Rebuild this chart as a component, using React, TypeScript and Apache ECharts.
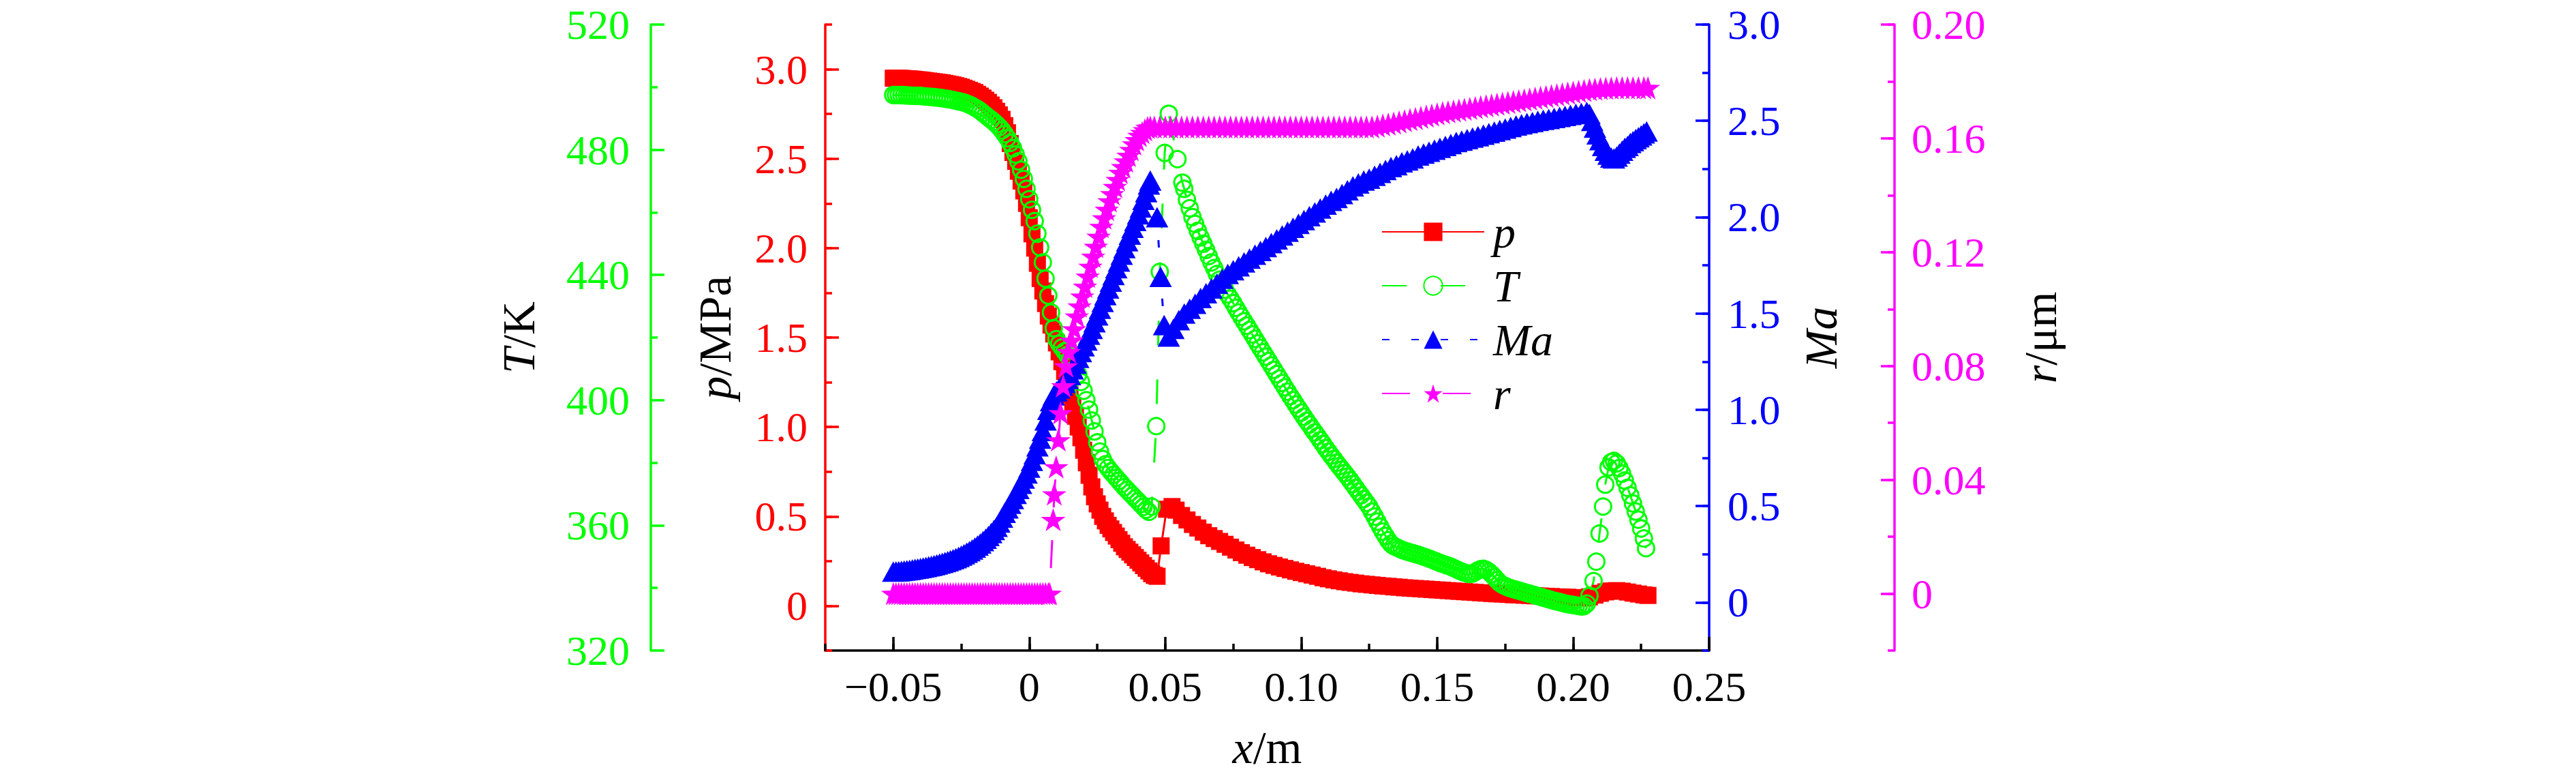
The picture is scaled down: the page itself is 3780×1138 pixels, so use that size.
import React, { useEffect, useRef } from 'react';
import * as echarts from 'echarts';

const FONT = 'Liberation Serif';
const RED = '#ff0000';
const GREEN = '#00ff00';
const BLUE = '#0000ff';
const MAGENTA = '#ff00ff';

const seriesNames = ['p', 'T', 'Ma', 'r'];

// tick label positions
const xMajors = [-0.05, 0, 0.05, 0.1, 0.15, 0.2, 0.25];
const pMajors = [0, 0.5, 1, 1.5, 2, 2.5, 3];
const tMajors = [320, 360, 400, 440, 480, 520];
const maMajors = [0, 0.5, 1, 1.5, 2, 2.5, 3];
const rMajors = [0, 0.04, 0.08, 0.12, 0.16, 0.2];

// p / MPa
const pData: [number, number][] = [
  [-0.05, 2.95], [-0.049, 2.95], [-0.048, 2.95], [-0.047, 2.949], [-0.046, 2.948], [-0.045, 2.947],
  [-0.044, 2.946], [-0.043, 2.945], [-0.042, 2.943], [-0.041, 2.941], [-0.04, 2.94], [-0.039, 2.938],
  [-0.038, 2.936], [-0.037, 2.934], [-0.036, 2.932], [-0.035, 2.93], [-0.034, 2.928], [-0.033, 2.926],
  [-0.032, 2.924], [-0.031, 2.921], [-0.03, 2.918], [-0.029, 2.915], [-0.028, 2.912], [-0.027, 2.908],
  [-0.026, 2.904], [-0.025, 2.9], [-0.024, 2.894], [-0.023, 2.888], [-0.022, 2.882], [-0.021, 2.876],
  [-0.02, 2.87], [-0.019, 2.86], [-0.018, 2.85], [-0.017, 2.839], [-0.016, 2.827],
  [-0.015, 2.815], [-0.014, 2.8], [-0.013, 2.785], [-0.012, 2.765], [-0.011, 2.745], [-0.01, 2.72],
  [-0.009, 2.685], [-0.008, 2.645], [-0.007, 2.585], [-0.006, 2.535], [-0.005, 2.485], [-0.004, 2.43],
  [-0.003, 2.375], [-0.002, 2.32], [-0.001, 2.25], [0, 2.17], [0.001, 2.08], [0.002, 2.0],
  [0.003, 1.915], [0.004, 1.83], [0.005, 1.76], [0.006, 1.69], [0.007, 1.62], [0.008, 1.57],
  [0.009, 1.52], [0.01, 1.47], [0.011, 1.42], [0.012, 1.365], [0.013, 1.31], [0.014, 1.245],
  [0.015, 1.18], [0.016, 1.12], [0.017, 1.06], [0.018, 1.0], [0.019, 0.94], [0.02, 0.87],
  [0.021, 0.8], [0.022, 0.73], [0.023, 0.665], [0.024, 0.61], [0.025, 0.57], [0.026, 0.535],
  [0.027, 0.5], [0.028, 0.475], [0.029, 0.45], [0.03, 0.43], [0.031, 0.41], [0.032, 0.39],
  [0.033, 0.37], [0.034, 0.35], [0.035, 0.33], [0.036, 0.315], [0.037, 0.3], [0.038, 0.285],
  [0.039, 0.27], [0.04, 0.255], [0.041, 0.24], [0.042, 0.225], [0.043, 0.21], [0.044, 0.195],
  [0.045, 0.18], [0.046, 0.17], [0.047, 0.165], [0.0485, 0.335], [0.0505, 0.54], [0.0525, 0.555],
  [0.054, 0.535], [0.056, 0.505], [0.058, 0.48], [0.06, 0.455], [0.062, 0.435], [0.064, 0.412],
  [0.066, 0.392], [0.068, 0.376], [0.07, 0.36], [0.072, 0.344], [0.074, 0.328], [0.076, 0.312],
  [0.078, 0.297], [0.08, 0.283], [0.082, 0.27], [0.084, 0.258], [0.086, 0.246], [0.088, 0.235],
  [0.09, 0.226], [0.092, 0.217], [0.094, 0.209], [0.096, 0.201], [0.098, 0.193], [0.1, 0.186],
  [0.102, 0.179], [0.104, 0.172], [0.106, 0.165], [0.108, 0.157], [0.11, 0.151], [0.112, 0.145],
  [0.114, 0.14], [0.116, 0.135], [0.118, 0.131], [0.12, 0.127], [0.122, 0.123], [0.124, 0.12],
  [0.126, 0.117], [0.128, 0.114], [0.13, 0.111], [0.132, 0.109], [0.134, 0.106], [0.136, 0.104],
  [0.138, 0.101], [0.14, 0.099], [0.142, 0.097], [0.144, 0.095], [0.146, 0.093], [0.148, 0.091],
  [0.15, 0.089], [0.152, 0.087], [0.154, 0.085], [0.156, 0.083], [0.158, 0.081], [0.16, 0.079],
  [0.162, 0.077], [0.164, 0.075], [0.166, 0.073], [0.168, 0.071], [0.17, 0.069], [0.172, 0.067],
  [0.174, 0.066], [0.176, 0.064], [0.178, 0.062], [0.18, 0.061], [0.182, 0.059], [0.184, 0.058],
  [0.186, 0.056], [0.188, 0.055], [0.19, 0.053], [0.192, 0.052], [0.194, 0.05], [0.196, 0.049],
  [0.198, 0.048], [0.2, 0.046], [0.202, 0.045], [0.204, 0.044], [0.206, 0.05], [0.208, 0.06],
  [0.21, 0.07], [0.212, 0.078], [0.214, 0.083], [0.216, 0.085], [0.218, 0.082], [0.22, 0.077],
  [0.222, 0.071], [0.224, 0.066], [0.226, 0.061], [0.2275, 0.058],
];

// T / K
const tData: [number, number][] = [
  [-0.05, 497.5], [-0.049, 497.5], [-0.048, 497.5], [-0.047, 497.45], [-0.046, 497.4], [-0.045, 497.35],
  [-0.044, 497.3], [-0.043, 497.25], [-0.042, 497.2], [-0.041, 497.2], [-0.04, 497.2], [-0.039, 497.1],
  [-0.038, 497.0], [-0.037, 496.95], [-0.036, 496.9], [-0.035, 496.8], [-0.034, 496.7], [-0.033, 496.6],
  [-0.032, 496.5], [-0.031, 496.35], [-0.03, 496.2], [-0.029, 496.05], [-0.028, 495.9], [-0.027, 495.7],
  [-0.026, 495.5], [-0.025, 495.3], [-0.024, 495.1], [-0.023, 494.75], [-0.022, 494.4], [-0.021, 494.0],
  [-0.02, 493.5], [-0.019, 493.0], [-0.018, 492.4], [-0.017, 491.7], [-0.016, 491.0],
  [-0.015, 490.3], [-0.014, 489.6], [-0.013, 488.9], [-0.012, 488.1], [-0.011, 487.2], [-0.01, 486.2],
  [-0.009, 485.0], [-0.008, 483.7], [-0.007, 482.2], [-0.006, 480.5], [-0.005, 478.5], [-0.004, 476.3],
  [-0.003, 473.6], [-0.002, 470.7], [-0.001, 467.5], [0, 464.2], [0.001, 460.8], [0.002, 457.2],
  [0.003, 453.2], [0.004, 448.8], [0.005, 444.0], [0.006, 438.8], [0.007, 433.4], [0.008, 428.0],
  [0.009, 423.0], [0.01, 419.5], [0.011, 418.0], [0.012, 416.8], [0.013, 415.6], [0.014, 414.4],
  [0.015, 413.0], [0.016, 411.6], [0.017, 410.0], [0.018, 408.2], [0.019, 405.8], [0.02, 403.0],
  [0.021, 400.0], [0.022, 397.0], [0.023, 393.5], [0.024, 390.0], [0.025, 386.5], [0.026, 383.6],
  [0.027, 381.2], [0.028, 379.5], [0.029, 378.3], [0.03, 377.2], [0.031, 376.2], [0.032, 375.2],
  [0.033, 374.2], [0.034, 373.2], [0.035, 372.2], [0.036, 371.3], [0.037, 370.4], [0.038, 369.5],
  [0.039, 368.6], [0.04, 367.7], [0.041, 366.8], [0.042, 365.9], [0.043, 365.0], [0.044, 364.3],
  [0.045, 366.0], [0.0467, 391.7], [0.048, 441], [0.0498, 479], [0.0513, 491.5], [0.0545, 477],
  [0.0563, 469.5], [0.057, 467.5], [0.058, 464.0], [0.059, 461.3], [0.06, 458.5], [0.061, 456.3],
  [0.062, 454.1], [0.063, 452.0], [0.064, 450.0], [0.065, 448.0], [0.066, 446.0], [0.067, 444.0],
  [0.068, 442.2], [0.069, 440.3], [0.07, 438.5], [0.071, 436.9], [0.072, 435.3], [0.073, 433.8],
  [0.074, 432.4], [0.075, 431.0], [0.076, 429.5], [0.077, 428.0], [0.078, 426.6], [0.079, 425.2],
  [0.08, 423.8], [0.081, 422.4], [0.082, 421.0], [0.083, 419.6], [0.084, 418.1], [0.085, 416.7],
  [0.086, 415.3], [0.087, 413.9], [0.088, 412.5], [0.089, 411.1], [0.09, 409.7], [0.091, 408.3],
  [0.092, 406.9], [0.093, 405.5], [0.094, 404.1], [0.095, 402.7], [0.096, 401.3], [0.097, 400.0],
  [0.098, 398.6], [0.099, 397.3], [0.1, 396.0], [0.101, 394.7], [0.102, 393.4], [0.103, 392.2],
  [0.104, 390.9], [0.105, 389.7], [0.106, 388.5], [0.107, 387.2], [0.108, 386.0], [0.109, 384.7],
  [0.11, 383.5], [0.111, 382.3], [0.112, 381.2], [0.113, 380.0], [0.114, 378.9], [0.115, 377.8],
  [0.116, 376.7], [0.117, 375.6], [0.118, 374.4], [0.119, 373.2], [0.12, 372.0], [0.121, 370.8],
  [0.122, 369.6], [0.123, 368.4], [0.124, 367.2], [0.125, 366.0], [0.126, 364.4], [0.127, 362.8],
  [0.128, 361.2], [0.129, 359.6], [0.13, 358.0], [0.131, 356.6], [0.132, 355.2], [0.133, 354.1],
  [0.134, 353.4], [0.135, 353.0], [0.136, 352.6], [0.137, 352.2], [0.138, 351.9], [0.139, 351.6],
  [0.14, 351.35], [0.141, 351.1], [0.142, 350.85], [0.143, 350.6], [0.144, 350.3], [0.145, 350.0],
  [0.146, 349.7], [0.147, 349.4], [0.148, 349.05], [0.149, 348.7], [0.15, 348.35], [0.151, 348.0],
  [0.152, 347.7], [0.153, 347.4], [0.154, 347.1], [0.155, 346.8], [0.156, 346.4], [0.157, 346.0],
  [0.158, 345.6], [0.159, 345.2], [0.16, 344.9], [0.161, 344.6], [0.162, 344.5], [0.163, 344.6],
  [0.164, 345.1], [0.165, 345.6], [0.166, 346.0], [0.167, 346.1], [0.168, 345.8], [0.169, 345.2],
  [0.17, 344.4], [0.171, 343.5], [0.172, 342.5], [0.173, 341.6], [0.174, 341.0], [0.175, 340.6],
  [0.176, 340.2], [0.177, 339.9], [0.178, 339.65], [0.179, 339.4], [0.18, 339.15], [0.181, 338.9],
  [0.182, 338.65], [0.183, 338.4], [0.184, 338.15], [0.185, 337.9], [0.186, 337.65], [0.187, 337.4],
  [0.188, 337.15], [0.189, 336.9], [0.19, 336.65], [0.191, 336.4], [0.192, 336.15], [0.193, 335.9],
  [0.194, 335.7], [0.195, 335.5], [0.196, 335.25], [0.197, 335.0], [0.198, 334.85], [0.199, 334.7],
  [0.2, 334.55], [0.201, 334.4], [0.202, 334.25], [0.203, 334.1], [0.204, 334.2], [0.205, 335.0],
  [0.206, 337.5], [0.2075, 342.2], [0.2085, 348.4], [0.2097, 357.4], [0.211, 366], [0.2118, 373],
  [0.213, 378.5], [0.214, 380.2], [0.215, 380.6], [0.216, 379.8], [0.217, 378.3], [0.218, 376.5],
  [0.219, 374.3], [0.22, 372.0], [0.221, 369.6], [0.222, 367.0], [0.223, 364.4], [0.224, 361.8],
  [0.225, 359.0], [0.226, 355.8], [0.2268, 352.7],
];

// Ma
const maData: [number, number][] = [
  [-0.05, 0.16], [-0.049, 0.161], [-0.048, 0.162], [-0.047, 0.1635], [-0.046, 0.165], [-0.045, 0.167],
  [-0.044, 0.169], [-0.043, 0.1715], [-0.042, 0.174], [-0.041, 0.176], [-0.04, 0.178], [-0.039, 0.181],
  [-0.038, 0.184], [-0.037, 0.187], [-0.036, 0.19], [-0.035, 0.1935], [-0.034, 0.197], [-0.033, 0.201],
  [-0.032, 0.205], [-0.031, 0.2095], [-0.03, 0.214], [-0.029, 0.219], [-0.028, 0.224], [-0.027, 0.23],
  [-0.026, 0.236], [-0.025, 0.243], [-0.024, 0.25], [-0.023, 0.258], [-0.022, 0.266], [-0.021, 0.275],
  [-0.02, 0.285], [-0.019, 0.295], [-0.018, 0.306], [-0.017, 0.318], [-0.016, 0.331],
  [-0.015, 0.345], [-0.014, 0.36], [-0.013, 0.376], [-0.012, 0.393], [-0.011, 0.415], [-0.01, 0.44],
  [-0.009, 0.465], [-0.008, 0.488], [-0.007, 0.512], [-0.006, 0.537], [-0.005, 0.563], [-0.004, 0.589],
  [-0.003, 0.616], [-0.002, 0.643], [-0.001, 0.67], [0, 0.7], [0.001, 0.735], [0.002, 0.77],
  [0.003, 0.81], [0.004, 0.85], [0.005, 0.89], [0.006, 0.945], [0.007, 1.0], [0.008, 1.045],
  [0.009, 1.075], [0.01, 1.095], [0.011, 1.11], [0.012, 1.125], [0.013, 1.14], [0.014, 1.16],
  [0.015, 1.18], [0.016, 1.21], [0.017, 1.24], [0.018, 1.27], [0.019, 1.3], [0.02, 1.33],
  [0.021, 1.36], [0.022, 1.39], [0.023, 1.42], [0.024, 1.455], [0.025, 1.49], [0.026, 1.525],
  [0.027, 1.56], [0.028, 1.595], [0.029, 1.63], [0.03, 1.665], [0.031, 1.7], [0.032, 1.735],
  [0.033, 1.77], [0.034, 1.805], [0.035, 1.84], [0.036, 1.875], [0.037, 1.91], [0.038, 1.945],
  [0.039, 1.98], [0.04, 2.015], [0.041, 2.05], [0.042, 2.09], [0.043, 2.13], [0.044, 2.17],
  [0.0445, 2.19], [0.047, 2.0], [0.0483, 1.69], [0.0496, 1.44], [0.0513, 1.38], [0.053, 1.42],
  [0.055, 1.465], [0.057, 1.5], [0.059, 1.525], [0.061, 1.55], [0.063, 1.58], [0.065, 1.605],
  [0.067, 1.63], [0.069, 1.655], [0.071, 1.68], [0.073, 1.705], [0.075, 1.725], [0.077, 1.745],
  [0.079, 1.765], [0.081, 1.785], [0.083, 1.805], [0.085, 1.825], [0.087, 1.845], [0.089, 1.865],
  [0.091, 1.885], [0.093, 1.905], [0.095, 1.925], [0.097, 1.945], [0.099, 1.965], [0.101, 1.985],
  [0.103, 2.005], [0.105, 2.025], [0.107, 2.045], [0.109, 2.065], [0.111, 2.085], [0.113, 2.1],
  [0.115, 2.12], [0.117, 2.14], [0.119, 2.16], [0.121, 2.175], [0.123, 2.19], [0.125, 2.2],
  [0.127, 2.215], [0.129, 2.23], [0.131, 2.245], [0.133, 2.26], [0.135, 2.27], [0.137, 2.285],
  [0.139, 2.295], [0.141, 2.305], [0.143, 2.32], [0.145, 2.33], [0.147, 2.34], [0.149, 2.35],
  [0.151, 2.36], [0.153, 2.37], [0.155, 2.38], [0.157, 2.39], [0.159, 2.397], [0.161, 2.405],
  [0.163, 2.413], [0.165, 2.42], [0.167, 2.428], [0.169, 2.436], [0.171, 2.444], [0.173, 2.452],
  [0.175, 2.46], [0.177, 2.468], [0.179, 2.476], [0.181, 2.482], [0.183, 2.488], [0.185, 2.494],
  [0.187, 2.5], [0.189, 2.505], [0.191, 2.51], [0.193, 2.515], [0.195, 2.52], [0.197, 2.526],
  [0.199, 2.531], [0.201, 2.536], [0.203, 2.541], [0.205, 2.546], [0.206, 2.535], [0.207, 2.5],
  [0.208, 2.465], [0.209, 2.43], [0.21, 2.4], [0.211, 2.37], [0.212, 2.345], [0.213, 2.325],
  [0.214, 2.31], [0.215, 2.305], [0.216, 2.315], [0.217, 2.33], [0.218, 2.345], [0.219, 2.36],
  [0.22, 2.37], [0.221, 2.385], [0.222, 2.395], [0.223, 2.405], [0.224, 2.415], [0.225, 2.425],
  [0.226, 2.435], [0.227, 2.445],
];

// r / um
const rData: [number, number][] = [
  [-0.05, 0], [-0.049, 0], [-0.048, 0], [-0.047, 0], [-0.046, 0], [-0.045, 0], [-0.044, 0], [-0.043, 0],
  [-0.042, 0], [-0.041, 0], [-0.04, 0], [-0.039, 0], [-0.038, 0], [-0.037, 0], [-0.036, 0], [-0.035, 0],
  [-0.034, 0], [-0.033, 0], [-0.032, 0], [-0.031, 0], [-0.03, 0], [-0.029, 0], [-0.028, 0], [-0.027, 0],
  [-0.026, 0], [-0.025, 0], [-0.024, 0], [-0.023, 0], [-0.022, 0], [-0.021, 0], [-0.02, 0], [-0.019, 0],
  [-0.018, 0], [-0.017, 0], [-0.016, 0], [-0.015, 0], [-0.014, 0], [-0.013, 0], [-0.012, 0], [-0.011, 0],
  [-0.01, 0], [-0.009, 0], [-0.008, 0], [-0.007, 0], [-0.006, 0], [-0.005, 0], [-0.004, 0], [-0.003, 0],
  [-0.002, 0], [-0.001, 0], [0, 0], [0.001, 0], [0.002, 0], [0.003, 0], [0.004, 0], [0.005, 0],
  [0.006, 0], [0.007, 0], [0.0075, 0],
  [0.0088, 0.026], [0.0092, 0.035], [0.0099, 0.0445], [0.0107, 0.054], [0.0115, 0.0635], [0.0125, 0.073],
  [0.0135, 0.08], [0.0145, 0.085], [0.0155, 0.089], [0.0165, 0.093], [0.0175, 0.0975], [0.0185, 0.101],
  [0.0195, 0.1045], [0.0205, 0.108], [0.0215, 0.1115], [0.0225, 0.115], [0.0235, 0.1185], [0.0245, 0.122],
  [0.0255, 0.1255], [0.0265, 0.129], [0.0275, 0.132], [0.0285, 0.135], [0.0295, 0.138], [0.0305, 0.1405],
  [0.0315, 0.143], [0.0325, 0.1455], [0.0335, 0.148], [0.0345, 0.15], [0.0355, 0.152], [0.0365, 0.154],
  [0.0375, 0.156], [0.0385, 0.158], [0.0395, 0.1595], [0.0405, 0.161], [0.0415, 0.162], [0.0425, 0.163],
  [0.0435, 0.1638], [0.0445, 0.164], [0.046, 0.164], [0.048, 0.164], [0.05, 0.164], [0.052, 0.164],
  [0.054, 0.164], [0.056, 0.164], [0.058, 0.164], [0.06, 0.164], [0.062, 0.164], [0.064, 0.164],
  [0.066, 0.164], [0.068, 0.164], [0.07, 0.164], [0.072, 0.164], [0.074, 0.164], [0.076, 0.164],
  [0.078, 0.164], [0.08, 0.164], [0.082, 0.164], [0.084, 0.164], [0.086, 0.164], [0.088, 0.164],
  [0.09, 0.164], [0.092, 0.164], [0.094, 0.164], [0.096, 0.164], [0.098, 0.164], [0.1, 0.164],
  [0.102, 0.164], [0.104, 0.164], [0.106, 0.164], [0.108, 0.164], [0.11, 0.164], [0.112, 0.164],
  [0.114, 0.164], [0.116, 0.164], [0.118, 0.164], [0.12, 0.164], [0.122, 0.164], [0.124, 0.164],
  [0.126, 0.164], [0.128, 0.1643], [0.13, 0.1647], [0.132, 0.165], [0.134, 0.1654], [0.136, 0.1658],
  [0.138, 0.1662], [0.14, 0.1666], [0.142, 0.167], [0.144, 0.1674], [0.146, 0.1678], [0.148, 0.1682],
  [0.15, 0.1686], [0.152, 0.169], [0.154, 0.1693], [0.156, 0.1696], [0.158, 0.1699], [0.16, 0.1702],
  [0.162, 0.1705], [0.164, 0.1708], [0.166, 0.1711], [0.168, 0.1714], [0.17, 0.1717], [0.172, 0.172],
  [0.174, 0.1723], [0.176, 0.1726], [0.178, 0.1729], [0.18, 0.1732], [0.182, 0.1735], [0.184, 0.1738],
  [0.186, 0.1741], [0.188, 0.1744], [0.19, 0.1747], [0.192, 0.175], [0.194, 0.1753], [0.196, 0.1756],
  [0.198, 0.1759], [0.2, 0.1762], [0.202, 0.1765], [0.204, 0.1768], [0.206, 0.1771], [0.208, 0.1773],
  [0.21, 0.1775], [0.212, 0.1776], [0.214, 0.1777], [0.216, 0.1778], [0.218, 0.1778], [0.22, 0.1778],
  [0.222, 0.1778], [0.224, 0.1778], [0.226, 0.1778], [0.2275, 0.1778],
];

const STAR =
  'path://M50,0 L61.23,34.55 L97.55,34.55 L68.17,55.9 L79.39,90.45 L50,69.1 L20.61,90.45 L31.83,55.9 L2.45,34.55 L38.77,34.55 Z';

const isIn = (list: number[], v: number) => list.some((m) => Math.abs(m - v) < 1e-9);

const fmtX = (v: number) => {
  if (!isIn(xMajors, v)) return '';
  if (Math.abs(v) < 1e-12) return '0';
  return (v < 0 ? '\u2212' : '') + Math.abs(v).toFixed(2);
};
const fmt1 = (majors: number[]) => (v: number) => {
  if (!isIn(majors, v)) return '';
  if (Math.abs(v) < 1e-12) return '0';
  return v.toFixed(1);
};
const fmtR = (v: number) => {
  if (!isIn(rMajors, v)) return '';
  if (Math.abs(v) < 1e-12) return '0';
  return v.toFixed(2);
};

const TICK_W = 3.5;
const LABEL_SIZE = 62;
const NAME_SIZE = 68;

const nameStyle = {
  fontSize: NAME_SIZE,
  fontFamily: FONT,
  color: '#000',
  rich: { i: { fontStyle: 'italic', fontSize: NAME_SIZE, fontFamily: FONT, color: '#000' } },
};

function mainAxis(o: any) {
  return {
    type: 'value',
    position: o.position,
    offset: o.offset,
    min: o.min,
    max: o.max,
    interval: o.interval,
    axisLine: { show: true, onZero: false, lineStyle: { color: o.color, width: TICK_W } },
    axisTick: { show: true, inside: true, length: o.tickLen, lineStyle: { color: o.color, width: TICK_W } },
    minorTick: o.minor
      ? { show: true, splitNumber: 2, length: 10, lineStyle: { color: o.color, width: TICK_W } }
      : { show: false },
    axisLabel: {
      show: true,
      margin: o.margin,
      color: o.color,
      fontSize: LABEL_SIZE,
      fontFamily: FONT,
      formatter: o.formatter,
      showMinLabel: true,
      showMaxLabel: true,
    },
    splitLine: { show: false },
    name: o.name,
    nameLocation: 'middle',
    nameGap: o.nameGap,
    nameTextStyle: { ...nameStyle, fontStyle: o.nameItalic ? 'italic' : 'normal' },
  };
}

function majorOverlay(o: any) {
  return {
    type: 'value',
    position: o.position,
    offset: o.offset,
    min: o.min,
    max: o.max,
    axisLine: { show: false, onZero: false },
    axisTick: {
      show: true,
      inside: true,
      length: 20,
      customValues: o.values,
      lineStyle: { color: o.color, width: TICK_W },
    },
    axisLabel: { show: false },
    splitLine: { show: false },
  };
}

const common = { type: 'line', xAxisIndex: 0, showSymbol: true, showAllSymbol: true, silent: true };

const option: any = {
  animation: false,
  backgroundColor: '#ffffff',
  grid: { left: 1211, right: 1272, top: 36, bottom: 184, containLabel: false },
  legend: {
    show: true,
    orient: 'vertical',
    left: 2022,
    top: 302,
    itemWidth: 150,
    itemHeight: 34,
    itemGap: 13,
    selectedMode: false,
    data: seriesNames,
    textStyle: {
      fontSize: 66,
      fontStyle: 'italic',
      fontFamily: FONT,
      color: '#000',
      padding: [0, 0, 0, 8],
    },
  },
  xAxis: [
    mainAxis({
      position: 'bottom', offset: 0, min: -0.075, max: 0.25, interval: 0.025, color: '#000',
      tickLen: 10, margin: 22, formatter: fmtX, name: '{i|x}/m', nameGap: 108,
    }),
    majorOverlay({ position: 'bottom', offset: 0, min: -0.075, max: 0.25, values: xMajors, color: '#000' }),
  ],
  yAxis: [
    mainAxis({
      position: 'left', offset: 0, min: -0.25, max: 3.25, interval: 0.25, color: RED,
      tickLen: 10, margin: 26, formatter: fmt1(pMajors), name: '{i|p}/MPa', nameGap: 128,
    }),
    mainAxis({
      position: 'left', offset: 256, min: 320, max: 520, interval: 40, color: GREEN, minor: true,
      tickLen: 20, margin: 31, formatter: (v: number) => (isIn(tMajors, v) ? String(v) : ''),
      name: '{i|T}/K', nameGap: 160,
    }),
    mainAxis({
      position: 'right', offset: 0, min: -0.25, max: 3.0, interval: 0.25, color: BLUE,
      tickLen: 10, margin: 27, formatter: fmt1(maMajors), name: 'Ma', nameItalic: true, nameGap: 130,
    }),
    mainAxis({
      position: 'right', offset: 272, min: -0.02, max: 0.2, interval: 0.02, color: MAGENTA,
      tickLen: 10, margin: 25, formatter: fmtR, name: '{i|r}/\u03bcm', nameGap: 180,
    }),
    majorOverlay({ position: 'left', offset: 0, min: -0.25, max: 3.25, values: pMajors, color: RED }),
    majorOverlay({ position: 'right', offset: 0, min: -0.25, max: 3.0, values: maMajors, color: BLUE }),
    majorOverlay({ position: 'right', offset: 272, min: -0.02, max: 0.2, values: rMajors, color: MAGENTA }),
  ],
  series: [
    {
      ...common, name: 'p', yAxisIndex: 0, data: pData,
      symbol: 'rect', symbolSize: 25,
      itemStyle: { color: RED },
      lineStyle: { color: RED, width: 3, type: 'solid' },
    },
    {
      ...common, name: 'T', yAxisIndex: 1, data: tData,
      symbol: 'circle', symbolSize: 24,
      itemStyle: { color: 'transparent', borderColor: GREEN, borderWidth: 3 },
      lineStyle: { color: GREEN, width: 3, type: [36, 50] },
    },
    {
      ...common, name: 'Ma', yAxisIndex: 2, data: maData,
      symbol: 'triangle', symbolSize: [33, 30],
      itemStyle: { color: BLUE },
      lineStyle: { color: BLUE, width: 3, type: [11, 32] },
    },
    {
      ...common, name: 'r', yAxisIndex: 3, data: rData,
      symbol: STAR, symbolSize: [36, 34],
      itemStyle: { color: MAGENTA },
      lineStyle: { color: MAGENTA, width: 3, type: [41, 48] },
    },
  ],
};

export default function App() {
  const ref = useRef<HTMLDivElement>(null);
  useEffect(() => {
    if (!ref.current) return;
    const chart = echarts.init(ref.current, null, { renderer: 'svg' });
    chart.setOption(option);
    return () => chart.dispose();
  }, []);
  return (
    <div
      ref={ref}
      style={{ position: 'fixed', left: 0, top: 0, width: 3780, height: 1138, background: '#ffffff' }}
    />
  );
}
